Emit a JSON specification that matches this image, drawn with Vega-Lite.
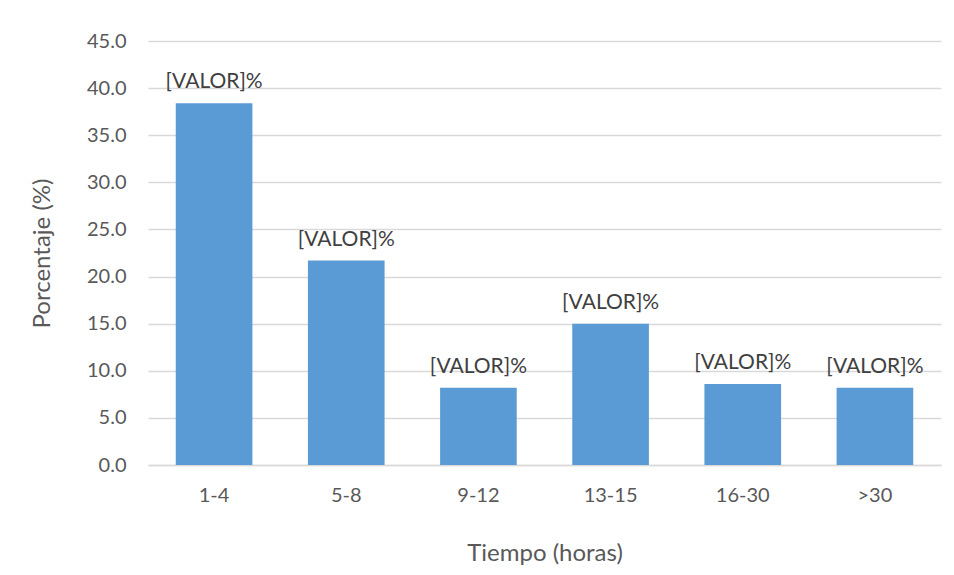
{
  "$schema": "https://vega.github.io/schema/vega-lite/v6.json",
  "autosize": {"type": "none"},
  "width": 793,
  "height": 424,
  "padding": {"left": 148, "top": 41, "right": 13, "bottom": 110},
  "background": "white",
  "data": {"values": [
    {"tiempo": "1-4", "pct": 38.4, "label": "[VALOR]%"},
    {"tiempo": "5-8", "pct": 21.7, "label": "[VALOR]%"},
    {"tiempo": "9-12", "pct": 8.2, "label": "[VALOR]%"},
    {"tiempo": "13-15", "pct": 15.0, "label": "[VALOR]%"},
    {"tiempo": "16-30", "pct": 8.6, "label": "[VALOR]%"},
    {"tiempo": ">30", "pct": 8.2, "label": "[VALOR]%"}
  ]},
  "encoding": {
    "x": {
      "field": "tiempo", "type": "nominal", "sort": null,
      "scale": {"paddingInner": 0.42, "paddingOuter": 0.21},
      "axis": {
        "title": "Tiempo (horas)", "labelAngle": 0, "ticks": false,
        "domain": true, "domainColor": "#d9d9d9", "domainWidth": 1.5,
        "labelFont": "Lato", "labelFontSize": 20, "labelColor": "#595959", "labelPadding": 20,
        "titleFont": "Lato", "titleFontSize": 24, "titleFontWeight": "normal", "titleColor": "#595959", "titlePadding": 36
      }
    },
    "y": {
      "field": "pct", "type": "quantitative",
      "scale": {"domain": [0, 45]},
      "axis": {
        "title": "Porcentaje (%)", "values": [0, 5, 10, 15, 20, 25, 30, 35, 40, 45], "format": ".1f",
        "ticks": false, "domain": false, "gridColor": "#d9d9d9", "gridWidth": 1.5,
        "labelFont": "Lato", "labelFontSize": 20, "labelColor": "#595959", "labelPadding": 22,
        "titleFont": "Lato", "titleFontSize": 24, "titleFontWeight": "normal", "titleColor": "#595959", "titlePadding": 32
      }
    }
  },
  "layer": [
    {"mark": {"type": "bar", "color": "#5B9BD5"}},
    {"mark": {"type": "text", "baseline": "bottom", "dy": -11, "font": "Lato", "fontSize": 21, "color": "#404040"},
     "encoding": {"text": {"field": "label"}}}
  ],
  "config": {"view": {"stroke": null}}
}
